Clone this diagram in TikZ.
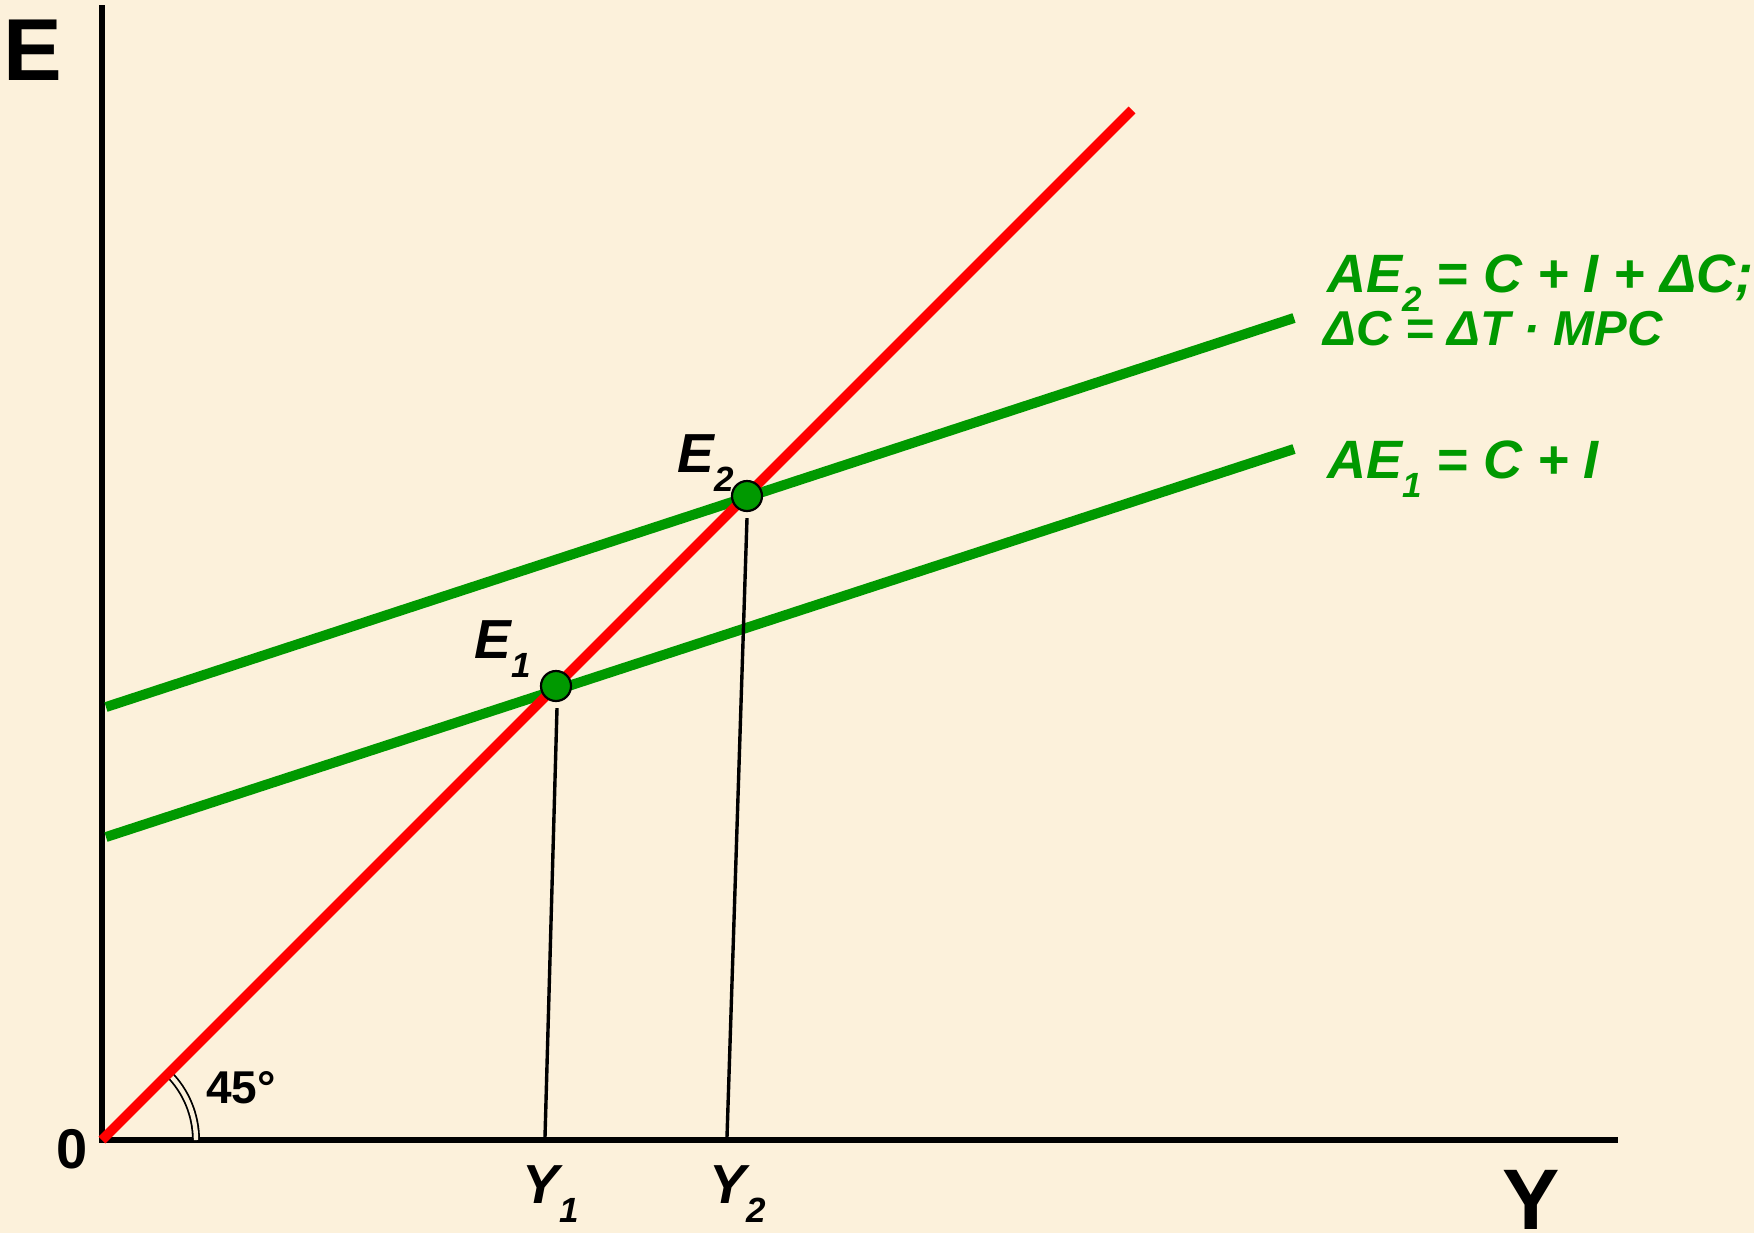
\documentclass[tikz,border=0pt]{standalone}
\usepackage{fontspec}
\setmainfont{Liberation Sans}
\definecolor{bg}{RGB}{252,241,219}
\definecolor{ggreen}{RGB}{0,153,0}
\definecolor{rred}{RGB}{255,0,0}
\newcommand\sbx[1]{\raisebox{-9.5pt}{\fontsize{17.5}{18}\selectfont #1}}
\tikzset{
  axisline/.style={line width=3pt, black},
  aeline/.style={line width=5pt, ggreen},
  diag/.style={line width=4.8pt, rred},
  dropline/.style={line width=1.7pt, black},
  eqdot/.style={circle, fill=ggreen, draw=black, line width=1.1pt, minimum size=15pt, inner sep=0pt},
  lbl/.style={inner sep=0pt, anchor=base west, font=\bfseries\itshape\fontsize{27.5}{32}\selectfont},
  big/.style={inner sep=0pt, anchor=base west, font=\bfseries\fontsize{44}{50}\selectfont},
  glbl/.style={lbl, text=ggreen, font=\bfseries\itshape\fontsize{27}{32}\selectfont}
}
\begin{document}
\begin{tikzpicture}[x=0.5pt,y=-0.5pt]
\fill[bg] (0,0) rectangle (1754,1233);
\useasboundingbox (0,0) rectangle (1754,1233);
% axes
\coordinate (O) at (102,1140);
\coordinate (Ytop) at (102,5);
\coordinate (Xend) at (1618,1140);
\draw[axisline] (Ytop) -- (O) -- (Xend);
% angle arc
\draw[line width=0.9pt, double=bg, double distance=2.2pt] ([shift={(45:47pt)}]O) arc[start angle=45, end angle=0, radius=47pt];
% AE lines
\coordinate (A1s) at (106,837);
\coordinate (A1e) at (1294,449);
\coordinate (A2s) at (106,707);
\coordinate (A2e) at (1294,318);
\draw[aeline] (A1s) -- (A1e);
\draw[aeline] (A2s) -- (A2e);
% 45 degree line
\coordinate (Rend) at (1132,110);
\draw[diag] (O) -- (Rend);
% equilibrium points
\node[eqdot] (E1) at (556,686) {};
\node[eqdot] (E2) at (747,496) {};
\coordinate (Y1b) at (545,1137);
\coordinate (Y2b) at (727,1137);
\draw[dropline] ([shift={(0.5pt,-3pt)}]E1.south) -- (Y1b);
\draw[dropline] ([shift={(0pt,-3pt)}]E2.south) -- (Y2b);
% labels
\node[big] (Elab) at (3,80) {E};
\node[big, font=\bfseries\fontsize{43}{48}\selectfont] (Ylab) at (1502,1229) {Y};
\node[inner sep=0pt, anchor=base, font=\bfseries\fontsize{28}{32}\selectfont] (zero) at (72,1168) {0};
\node[inner sep=0pt, anchor=base west, font=\bfseries\fontsize{23}{26}\selectfont] (ang) at (206,1103) {45°};
\node[lbl] (E1lab) at (474,658) {E\sbx{1}};
\node[lbl] (E2lab) at (677,472) {E\sbx{2}};
\node[lbl] (Y1lab) at (522,1203) {Y\sbx{1}};
\node[lbl] (Y2lab) at (709,1203) {Y\sbx{2}};
\node[glbl] (ae2) at (1327,292) {AE\sbx{2} = C + I + ΔC;};
\node[glbl, font=\bfseries\itshape\fontsize{24.5}{30}\selectfont] (dc) at (1323,345) {ΔC = ΔT · MPC};
\node[glbl] (ae1) at (1327,478) {AE\sbx{1} = C + I};
\end{tikzpicture}
\end{document}
